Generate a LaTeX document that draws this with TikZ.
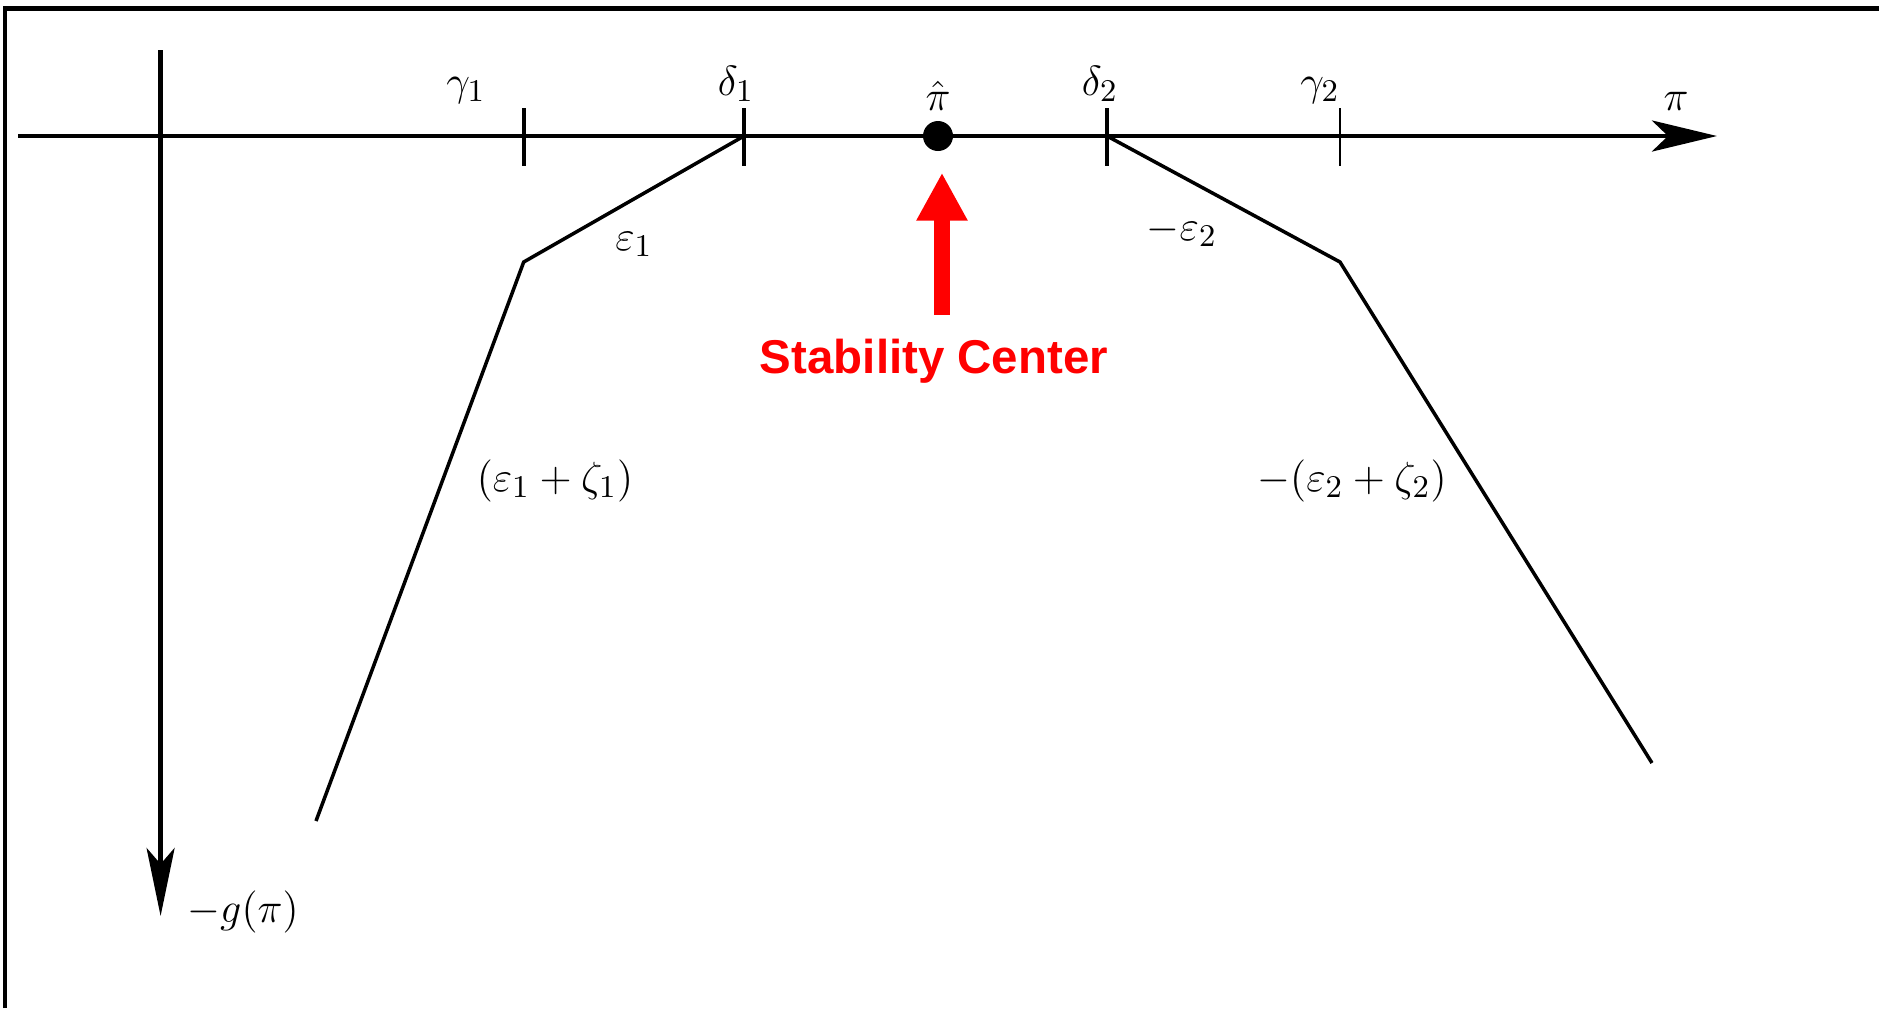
\documentclass[tikz,border=0pt]{standalone}
\usepackage{fontspec}
\newfontfamily\labelfont{Liberation Sans}
\usepackage{amsmath, amssymb}
\usetikzlibrary{arrows.meta}
\DeclareMathSizes{11.5}{11.5}{9.5}{7}

\begin{document}
\begin{tikzpicture}[x=0.1mm,y=-0.1mm,
    every node/.style={font=\fontsize{11.5}{13}\selectfont, inner sep=0pt},
    lbl/.style={anchor=base},
    tickmark/.style={line width=1.2pt},
    curve/.style={line width=1pt}]
    \useasboundingbox (0,0) rectangle (1879,1008);

    %Frame
    \draw[line width=1.4pt] (5,1008) -- (5,8.5) -- (1879,8.5);

    %Axes
    \coordinate (xl) at (18,136);
    \coordinate (xr) at (1717,136);
    \coordinate (yt) at (160.6,50);
    \coordinate (yb) at (160.6,916);
    \draw[line width=1.4pt,-{Stealth[length=6.5mm,width=3.1mm,inset=1.6mm]}] (xl) -- (xr);
    \draw[line width=1.2pt,-{Stealth[length=6.8mm,width=2.8mm,inset=1.6mm]}] (yt) -- (yb);
    \node[lbl] (pilbl) at (1676,110) {$\pi$};
    \node[lbl] (glbl) at (243,922) {$-g(\pi)$};

    %Ticks
    \coordinate (g1) at (523.7,136);
    \coordinate (d1) at (744,136);
    \coordinate (d2) at (1107,136);
    \coordinate (g2) at (1340,136);
    \draw[tickmark] (g1) ++(0,-28) -- ++(0,58);
    \draw[tickmark] (d1) ++(0,-28) -- ++(0,58);
    \draw[tickmark] (d2) ++(0,-28) -- ++(0,58);
    \draw[line width=0.6pt] (g2) ++(0,-28) -- ++(0,58);
    \node[lbl] (g1lbl) at (466,95) {$\gamma_1$};
    \node[lbl] (d1lbl) at (736,95) {$\delta_1$};
    \node[lbl] (d2lbl) at (1100,95) {$\delta_2$};
    \node[lbl] (g2lbl) at (1320,95) {$\gamma_2$};

    %Stability center
    \node[circle,fill=black,minimum size=3mm] (pihat) at (938,136) {};
    \node[lbl] (pihatlbl) at (938,110) {$\hat{\pi}$};
    \node[lbl,text=red,font=\labelfont\bfseries\fontsize{13.5}{16}\selectfont] (sclbl) at (934,373) {Stability Center};
    \draw[red,line width=1.6mm,-{Triangle[length=4.8mm,width=4.8mm]}]
        ([xshift=0.8mm,yshift=2.3mm]sclbl.north) -- ([xshift=0.4mm,yshift=-2.1mm]pihat.south);

    %Graph
    \coordinate (k1) at (523.7,262);
    \coordinate (e1) at (316,821);
    \coordinate (k2) at (1340,262);
    \coordinate (e2) at (1652,763);
    \draw[curve] (e1) -- (k1) -- (d1);
    \draw[curve] (d2) -- (k2) -- (e2);

    \node[lbl] (eps1) at (634,250) {$\varepsilon_1$};
    \node[lbl] (eps2) at (1182,240) {$-\varepsilon_2$};
    \node[lbl] (ez1) at (555,491) {$(\varepsilon_1+\zeta_1)$};
    \node[lbl] (ez2) at (1352,491) {$-(\varepsilon_2+\zeta_2)$};

\end{tikzpicture}
\end{document}
